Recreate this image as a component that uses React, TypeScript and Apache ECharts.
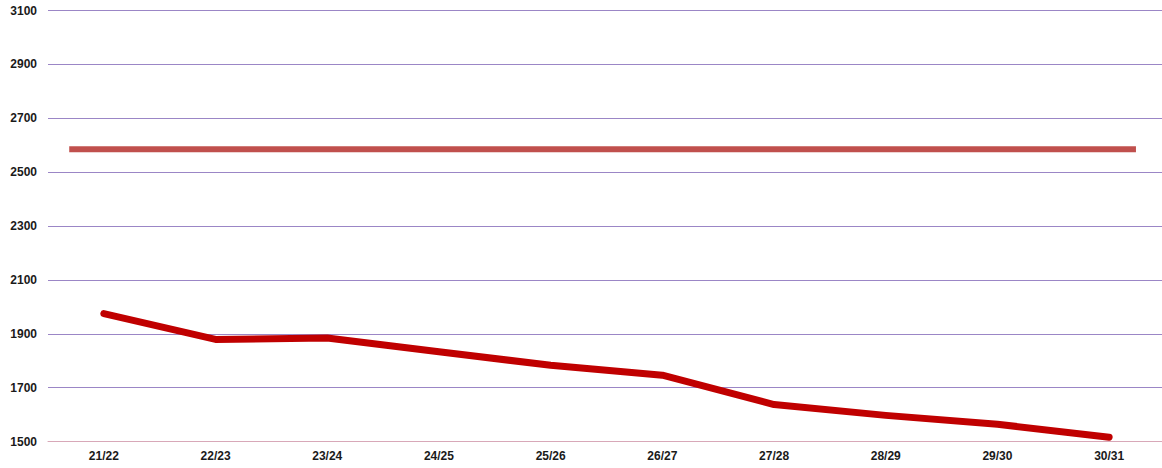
import React, { useEffect, useRef } from "react";
import * as echarts from "echarts";

const categories = ["21/22", "22/23", "23/24", "24/25", "25/26", "26/27", "27/28", "28/29", "29/30", "30/31"];
const seriesValues = [1975, 1879, 1884, 1833, 1783, 1746, 1637, 1597, 1564, 1516];
const targetValue = 2585;
const targetSpan = [-0.31, 9.24];
const yTicks = [1500, 1700, 1900, 2100, 2300, 2500, 2700, 2900, 3100];

export default function App() {
  const ref = useRef<HTMLDivElement>(null);
  useEffect(() => {
    if (!ref.current) return;
    const chart = echarts.init(ref.current, null, { renderer: "svg" });
    chart.setOption({
      animation: false,
      grid: { left: 48, top: 10.5, right: 5, height: 431, containLabel: false },
      xAxis: [
        {
          type: "category",
          data: categories,
          boundaryGap: true,
          axisLine: { show: true, lineStyle: { color: "#d8a8b8", width: 1 } },
          axisTick: { show: false },
          axisLabel: {
            color: "#1a1a1a",
            fontFamily: "Liberation Sans, Arial, sans-serif",
            fontWeight: "bold",
            fontSize: 12,
            margin: 8,
          },
          splitLine: { show: false },
        },
        {
          type: "value",
          min: -0.5,
          max: categories.length - 0.5,
          show: false,
          position: "bottom",
        },
      ],
      yAxis: {
        type: "value",
        min: yTicks[0],
        max: yTicks[yTicks.length - 1],
        interval: 200,
        axisLine: { show: false },
        axisTick: { show: false },
        axisLabel: {
          color: "#1a1a1a",
          fontFamily: "Liberation Sans, Arial, sans-serif",
          fontWeight: "bold",
          fontSize: 12,
          margin: 11,
          formatter: (v: number) => String(v),
        },
        splitLine: { show: true, lineStyle: { color: "#9b86c6", width: 1 } },
      },
      series: [
        {
          type: "line",
          xAxisIndex: 1,
          data: [
            [targetSpan[0], targetValue],
            [targetSpan[1], targetValue],
          ],
          symbol: "none",
          lineStyle: { color: "#c0504d", width: 6, cap: "butt" },
        },
        {
          type: "line",
          xAxisIndex: 0,
          data: seriesValues,
          symbol: "none",
          lineStyle: { color: "#c00000", width: 7, cap: "round", join: "round" },
        },
      ],
    });
    return () => chart.dispose();
  }, []);
  return (
    <div style={{ position: "absolute", left: 0, top: 0, width: 1162, height: 468, overflow: "hidden" }}>
      <div ref={ref} style={{ width: 1170, height: 468 }} />
    </div>
  );
}
